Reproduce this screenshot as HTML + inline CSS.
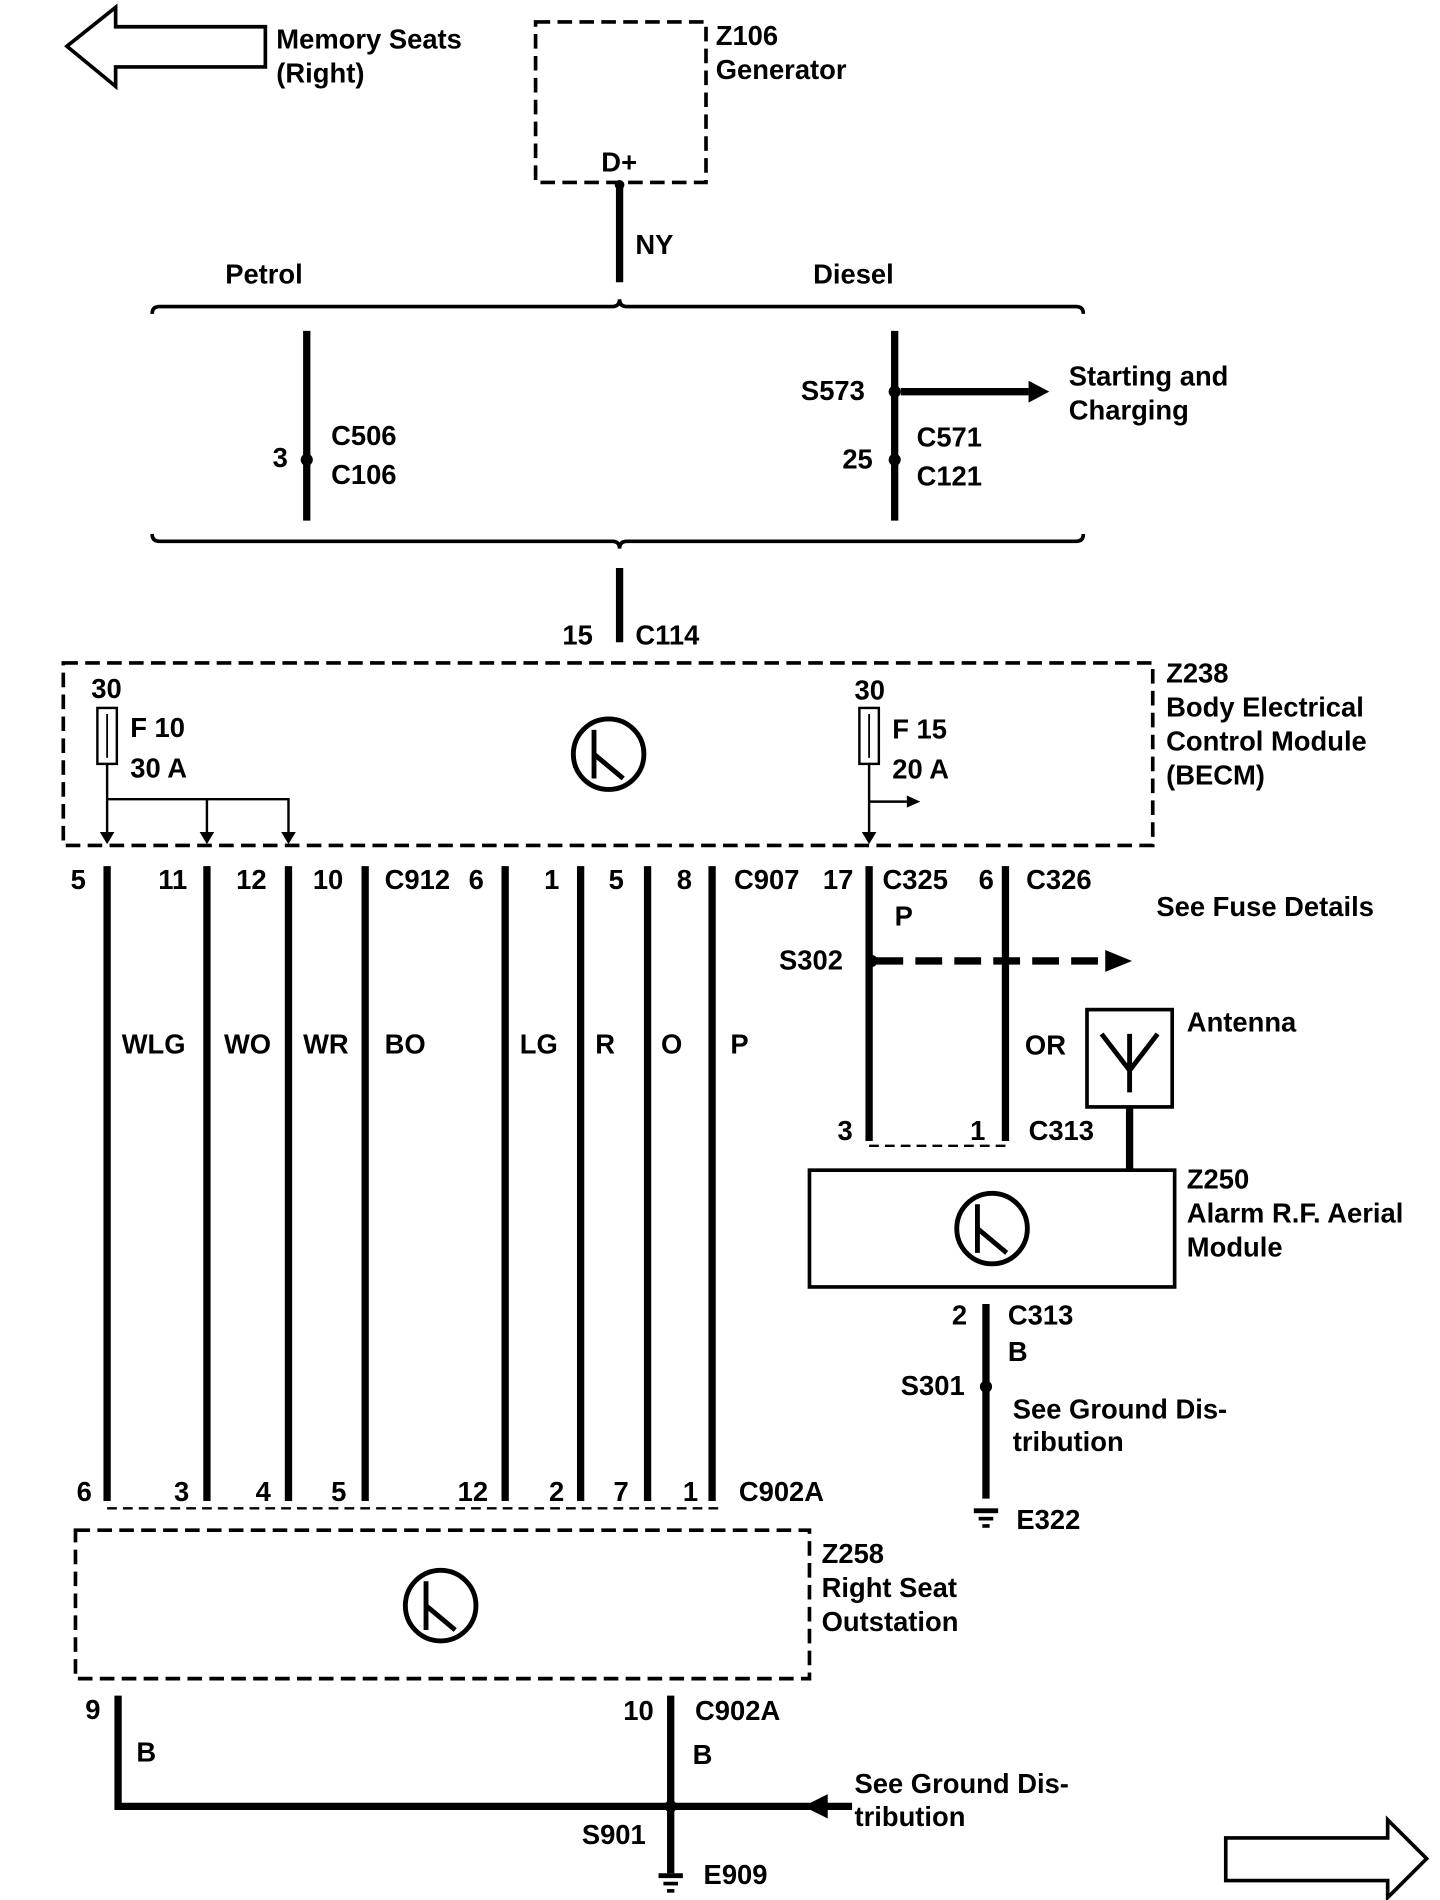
<!DOCTYPE html>
<html><head><meta charset="utf-8"><style>
html,body{margin:0;padding:0;background:#fff;}
svg{display:block}
text{font-family:"Liberation Sans",Arial,sans-serif;font-weight:bold;font-size:22.5px;fill:#000}
</style></head><body>
<svg width="1440" height="1900" viewBox="0 0 1183 1562" preserveAspectRatio="none" xmlns="http://www.w3.org/2000/svg">
<rect width="1183" height="1562" fill="#fff"/>
<g fill="none" stroke="#000">
<polygon points="55,38 95,6 95,22 218,22 218,55 95,55 95,71" stroke-width="3"/>
<polygon points="1007,1511 1140,1511 1140,1496 1172,1528 1140,1560 1140,1546 1007,1546" stroke-width="3"/>
<rect x="440" y="18" width="140" height="132" stroke-width="3" stroke-dasharray="12,6"/>
<line x1="509" y1="152" x2="509" y2="232" stroke-width="6"/>
<path d="M125,258 Q125,252 131,252 L503,252 Q509,252 509,246 Q509,252 515,252 L884,252 Q890,252 890,258" stroke-width="3"/>
<path d="M125,439 Q125,445 131,445 L503,445 Q509,445 509,451 Q509,445 515,445 L884,445 Q890,445 890,439" stroke-width="3"/>
<line x1="252" y1="272" x2="252" y2="428" stroke-width="6"/>
<line x1="735" y1="272" x2="735" y2="428" stroke-width="6"/>
<line x1="509" y1="467" x2="509" y2="528" stroke-width="6"/>
<line x1="740" y1="322" x2="845" y2="322" stroke-width="6"/>
<rect x="52" y="545" width="895" height="150" stroke-width="3" stroke-dasharray="12,6"/>
<rect x="80" y="582" width="16" height="46" stroke-width="2"/>
<line x1="88" y1="587" x2="88" y2="623" stroke-width="1.5"/>
<line x1="88" y1="628" x2="88" y2="686" stroke-width="2"/>
<polyline points="88,657 237,657 237,686" stroke-width="2"/>
<line x1="170" y1="657" x2="170" y2="686" stroke-width="2"/>
<rect x="706" y="582" width="16" height="46" stroke-width="2"/>
<line x1="714" y1="587" x2="714" y2="623" stroke-width="1.5"/>
<line x1="714" y1="628" x2="714" y2="686" stroke-width="2"/>
<line x1="714" y1="659" x2="745" y2="659" stroke-width="2"/>
<circle cx="500" cy="620" r="29" stroke-width="4"/>
<circle cx="815" cy="1010" r="29" stroke-width="4"/>
<circle cx="362" cy="1320" r="29" stroke-width="4"/>
<g stroke-width="6">
<line x1="88" y1="712" x2="88" y2="1234"/><line x1="170" y1="712" x2="170" y2="1234"/>
<line x1="237" y1="712" x2="237" y2="1234"/><line x1="300" y1="712" x2="300" y2="1234"/>
<line x1="415" y1="712" x2="415" y2="1234"/><line x1="477" y1="712" x2="477" y2="1234"/>
<line x1="532" y1="712" x2="532" y2="1234"/><line x1="585" y1="712" x2="585" y2="1234"/>
<line x1="714" y1="712" x2="714" y2="938"/><line x1="826" y1="712" x2="826" y2="938"/>
<line x1="928" y1="910" x2="928" y2="962"/>
<line x1="810" y1="1072" x2="810" y2="1232"/>
<polyline points="97,1394 97,1485 700,1485"/>
<line x1="551" y1="1394" x2="551" y2="1540"/>
</g>
<line x1="720" y1="790" x2="910" y2="790" stroke-width="6" stroke-dasharray="22,10"/>
<line x1="88" y1="1240" x2="590" y2="1240" stroke-width="2" stroke-dasharray="8,5"/>
<line x1="714" y1="942" x2="826" y2="942" stroke-width="2" stroke-dasharray="8,5"/>
<rect x="893" y="830" width="70" height="80" stroke-width="3"/>
<path d="M905,850 L928,880 L951,850 M928,850 L928,898" stroke-width="4"/>
<rect x="665" y="962" width="300" height="96" stroke-width="3"/>
<rect x="62" y="1258" width="603" height="122" stroke-width="3" stroke-dasharray="12,6"/>
<path d="M488,600 L488,640 M488,620 L512,640" stroke-width="4"/>
<path d="M803,990 L803,1030 M803,1010 L827,1030" stroke-width="4"/>
<path d="M350,1300 L350,1340 M350,1320 L374,1340" stroke-width="4"/>
</g>
<g fill="#000">
<polygon points="845,313 862,322 845,331"/>
<polygon points="908,781 930,790 908,799"/>
<polygon points="745,654 756,659 745,664"/>
<polygon points="82,684 88,694 94,684"/><polygon points="164,684 170,694 176,684"/>
<polygon points="231,684 237,694 243,684"/><polygon points="708,684 714,694 720,684"/>
<polygon points="680,1475 660,1485 680,1495"/>
<circle cx="509" cy="152" r="4"/><circle cx="252" cy="378" r="5"/><circle cx="735" cy="322" r="5"/>
<circle cx="735" cy="378" r="5"/><circle cx="716" cy="790" r="5"/><circle cx="810" cy="1140" r="5"/>
<circle cx="551" cy="1485" r="5"/>
<rect x="800" y="1240" width="20" height="4"/><rect x="804" y="1247" width="12" height="3"/><rect x="807" y="1253" width="6" height="3"/>
<rect x="541" y="1540" width="20" height="4"/><rect x="545" y="1547" width="12" height="3"/><rect x="548" y="1553" width="6" height="3"/>
</g>
<text x="227" y="40">Memory Seats</text><text x="227" y="68">(Right)</text>
<text x="588" y="37">Z106</text><text x="588" y="65">Generator</text>
<text x="494" y="141" font-size="20">D+</text><text x="522" y="209">NY</text>
<text x="185" y="233">Petrol</text><text x="668" y="233">Diesel</text>
<text x="224" y="384">3</text><text x="272" y="366">C506</text><text x="272" y="398">C106</text>
<text x="658" y="329">S573</text><text x="878" y="317">Starting and</text><text x="878" y="345">Charging</text>
<text x="692" y="385">25</text><text x="753" y="367">C571</text><text x="753" y="399">C121</text>
<text x="462" y="530">15</text><text x="522" y="530">C114</text>
<text x="958" y="561">Z238</text><text x="958" y="589">Body Electrical</text><text x="958" y="617">Control Module</text><text x="958" y="645">(BECM)</text>
<text x="75" y="574">30</text><text x="107" y="606">F 10</text><text x="107" y="639">30 A</text>
<text x="702" y="575">30</text><text x="733" y="607">F 15</text><text x="733" y="640">20 A</text>
<text x="58" y="731">5</text><text x="130" y="731">11</text><text x="194" y="731">12</text><text x="257" y="731">10</text>
<text x="316" y="731">C912</text><text x="385" y="731">6</text><text x="447" y="731">1</text><text x="500" y="731">5</text>
<text x="556" y="731">8</text><text x="603" y="731">C907</text><text x="676" y="731">17</text><text x="725" y="731">C325</text>
<text x="804" y="731">6</text><text x="843" y="731">C326</text>
<text x="950" y="753">See Fuse Details</text>
<text x="735" y="761">P</text><text x="640" y="797">S302</text>
<text x="100" y="866">WLG</text><text x="184" y="866">WO</text><text x="249" y="866">WR</text><text x="316" y="866">BO</text>
<text x="427" y="866">LG</text><text x="489" y="866">R</text><text x="543" y="866">O</text><text x="600" y="866">P</text>
<text x="842" y="867">OR</text><text x="975" y="848">Antenna</text>
<text x="688" y="937">3</text><text x="797" y="937">1</text><text x="845" y="937">C313</text>
<text x="975" y="977">Z250</text><text x="975" y="1005">Alarm R.F. Aerial</text><text x="975" y="1033">Module</text>
<text x="782" y="1089">2</text><text x="828" y="1089">C313</text><text x="828" y="1119">B</text>
<text x="740" y="1147">S301</text><text x="832" y="1166">See Ground Dis-</text><text x="832" y="1193">tribution</text>
<text x="835" y="1257">E322</text>
<text x="63" y="1234">6</text><text x="143" y="1234">3</text><text x="210" y="1234">4</text><text x="272" y="1234">5</text>
<text x="376" y="1234">12</text><text x="451" y="1234">2</text><text x="504" y="1234">7</text><text x="561" y="1234">1</text>
<text x="607" y="1234">C902A</text>
<text x="675" y="1285">Z258</text><text x="675" y="1313">Right Seat</text><text x="675" y="1341">Outstation</text>
<text x="70" y="1413">9</text><text x="112" y="1448">B</text><text x="512" y="1414">10</text><text x="571" y="1414">C902A</text>
<text x="569" y="1450">B</text><text x="702" y="1474">See Ground Dis-</text><text x="702" y="1501">tribution</text>
<text x="478" y="1516">S901</text><text x="578" y="1549">E909</text>
</svg>
</body></html>
